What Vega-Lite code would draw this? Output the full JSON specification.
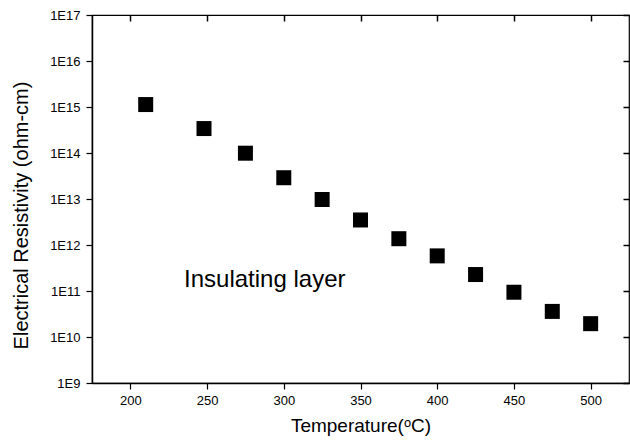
{
  "$schema": "https://vega.github.io/schema/vega-lite/v6.json",
  "width": 537,
  "height": 368,
  "autosize": "none",
  "padding": {"left": 92, "top": 15, "right": 1, "bottom": 61},
  "background": "white",
  "config": {
    "view": {"stroke": "black", "strokeWidth": 1.2},
    "font": "Liberation Sans",
    "axis": {
      "grid": false,
      "domainColor": "black",
      "domainWidth": 1.5,
      "tickColor": "black",
      "tickWidth": 1.2,
      "labelColor": "black",
      "titleColor": "black",
      "labelFont": "Liberation Sans",
      "titleFont": "Liberation Sans",
      "labelFontSize": 13,
      "titleFontSize": 19,
      "titleFontWeight": "normal"
    }
  },
  "datasets": {
    "pts": [
      {"temp": 210, "rho": 1.13e15},
      {"temp": 248, "rho": 3.4e14},
      {"temp": 275, "rho": 9.9e13},
      {"temp": 300, "rho": 2.9e13},
      {"temp": 325, "rho": 9.75e12},
      {"temp": 350, "rho": 3.5e12},
      {"temp": 375, "rho": 1.37e12},
      {"temp": 400, "rho": 5.8e11},
      {"temp": 425, "rho": 2.28e11},
      {"temp": 450, "rho": 9.4e10},
      {"temp": 475, "rho": 3.6e10},
      {"temp": 500, "rho": 1.95e10}
    ],
    "note": [
      {"temp": 235, "rho": 1.22e11, "label": "Insulating layer"}
    ]
  },
  "resolve": {"axis": {"x": "independent", "y": "independent"}},
  "layer": [
    {
      "data": {"name": "pts"},
      "mark": {"type": "point", "shape": "square", "filled": true, "color": "black", "opacity": 1, "size": 225},
      "encoding": {
        "x": {
          "field": "temp", "type": "quantitative",
          "scale": {"domain": [175, 525], "nice": false, "zero": false},
          "axis": {"orient": "bottom", "values": [200, 250, 300, 350, 400, 450, 500], "tickSize": 6, "labelPadding": 5, "title": "Temperature(ᵒC)", "titlePadding": 9, "labelFlush": false}
        },
        "y": {
          "field": "rho", "type": "quantitative",
          "scale": {"type": "log", "domain": [1e9, 1e17], "nice": false},
          "axis": {"orient": "left", "values": [1e9, 1e10, 1e11, 1e12, 1e13, 1e14, 1e15, 1e16, 1e17], "labelExpr": "'1E' + round(log(datum.value)/LN10)", "tickSize": 6, "labelPadding": 6, "title": "Electrical Resistivity (ohm-cm)", "titleFontSize": 20, "titlePadding": 18, "titleY": 200, "labelFlush": false}
        }
      }
    },
    {
      "data": {"name": "pts"},
      "mark": {"type": "point", "opacity": 0},
      "encoding": {
        "x": {
          "field": "temp", "type": "quantitative",
          "axis": {"orient": "top", "values": [200, 250, 300, 350, 400, 450, 500], "tickSize": 6, "tickWidth": 1.5, "offset": -6, "labels": false, "title": null, "domain": false}
        },
        "y": {
          "field": "rho", "type": "quantitative",
          "axis": {"orient": "right", "values": [1e9, 1e10, 1e11, 1e12, 1e13, 1e14, 1e15, 1e16, 1e17], "tickSize": 6, "tickWidth": 1.5, "offset": -6, "labels": false, "title": null, "domain": false}
        }
      }
    },
    {
      "data": {"name": "note"},
      "mark": {"type": "text", "align": "left", "baseline": "alphabetic", "fontSize": 24, "font": "Liberation Sans", "color": "black"},
      "encoding": {
        "x": {"field": "temp", "type": "quantitative", "axis": null},
        "y": {"field": "rho", "type": "quantitative", "axis": null},
        "text": {"field": "label"}
      }
    }
  ]
}
